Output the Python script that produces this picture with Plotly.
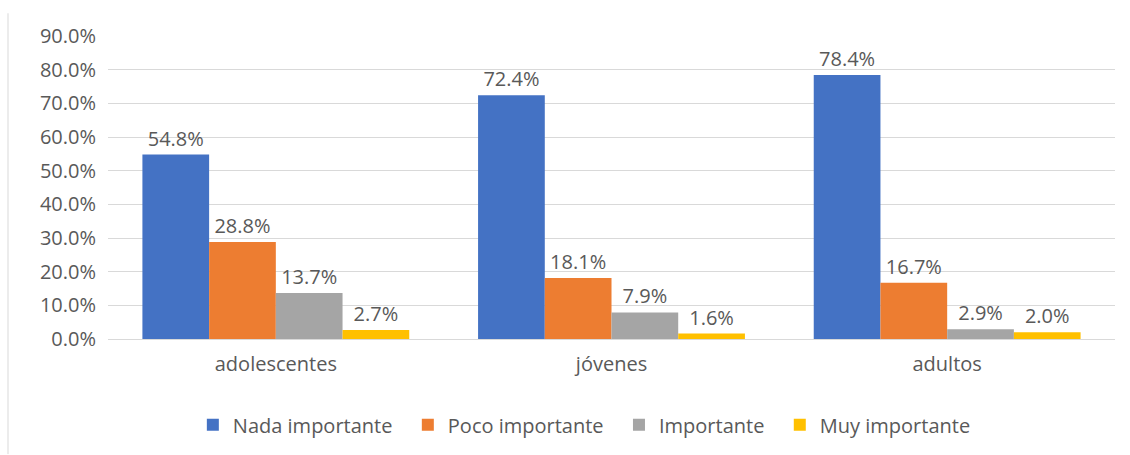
import plotly.graph_objects as go

# Grupos de edad y porcentajes por nivel de importancia
categorias = ["adolescentes", "jóvenes", "adultos"]
series = ["Nada importante", "Poco importante", "Importante", "Muy importante"]
nada_importante = [0.548, 0.724, 0.784]
poco_importante = [0.288, 0.181, 0.167]
importante = [0.137, 0.079, 0.029]
muy_importante = [0.027, 0.016, 0.020]
y_ticks = [0.0, 0.1, 0.2, 0.3, 0.4, 0.5, 0.6, 0.7, 0.8, 0.9]

valores = [nada_importante, poco_importante, importante, muy_importante]
colores = ["#4472C4", "#ED7D31", "#A5A5A5", "#FFC000"]

FONT = "Open Sans"
GRIS = "#595959"
TAM = 20
# espacio extra tras cada entrada de la leyenda
RELLENO = "\u00a0\u00a0"

fig = go.Figure()
for nombre, vals, color in zip(series, valores, colores):
    fig.add_trace(go.Bar(
        name=nombre + RELLENO,
        x=categorias,
        y=vals,
        marker=dict(color=color, line=dict(width=0)),
        texttemplate="%{y:.1%}",
        textposition="outside",
        textfont=dict(family=FONT, size=TAM, color=GRIS),
        cliponaxis=False,
    ))

fig.update_layout(
    width=1130,
    height=455,
    margin=dict(l=108, r=15, t=36, b=115),
    paper_bgcolor="white",
    plot_bgcolor="white",
    barmode="group",
    bargap=0.205,
    bargroupgap=0,
    font=dict(family=FONT, size=TAM, color=GRIS),
    showlegend=True,
    legend=dict(
        orientation="h",
        x=0.478,
        xanchor="center",
        y=-0.215,
        yanchor="top",
        font=dict(family=FONT, size=TAM, color=GRIS),
        itemwidth=30,
        traceorder="normal",
    ),
    xaxis=dict(
        showgrid=False,
        showline=False,
        ticks="",
        ticklabelstandoff=11,
        tickfont=dict(family=FONT, size=TAM, color=GRIS),
    ),
    yaxis=dict(
        range=[0, 0.9],
        tickvals=y_ticks,
        tickformat=".1%",
        showgrid=True,
        gridcolor="#D9D9D9",
        gridwidth=1,
        zeroline=True,
        zerolinecolor="#D9D9D9",
        zerolinewidth=1,
        showline=False,
        ticks="",
        ticklen=0,
        ticklabelstandoff=11,
        tickfont=dict(family=FONT, size=TAM, color=GRIS),
    ),
    shapes=[
        dict(type="line", xref="paper", yref="paper",
             x0=-0.0993, x1=-0.0993, y0=1.075, y1=-0.38,
             line=dict(color="#D9D9D9", width=1)),
    ],
)

fig.write_html("out.html")
